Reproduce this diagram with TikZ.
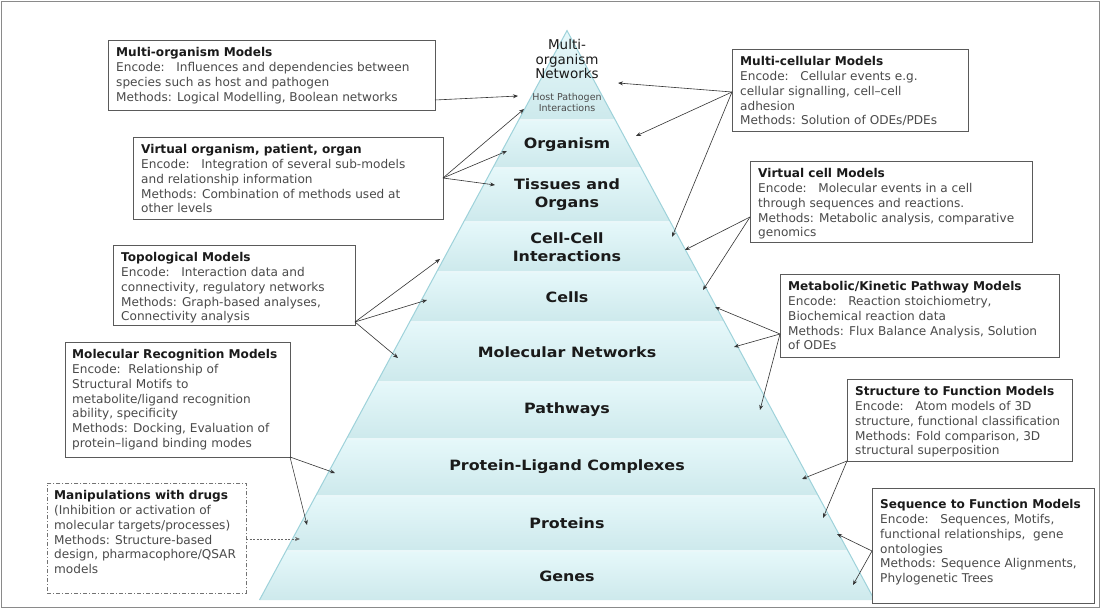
\documentclass[tikz,border=0pt]{standalone}
\usepackage{fontspec}
\setmainfont{DejaVu Sans}
\newfontfamily\lblfont[FakeStretch=1.12]{DejaVu Sans}
\usetikzlibrary{arrows.meta}
\definecolor{edgec}{HTML}{9ED2DA}
\definecolor{ltop}{HTML}{E6F8FA}
\definecolor{lbot}{HTML}{CDE9EC}
\definecolor{sepc}{HTML}{EAF7F9}
\definecolor{bodyc}{HTML}{4A4A4A}
\definecolor{titlec}{HTML}{1A1A1A}
\definecolor{boxc}{HTML}{5A5A5A}
\definecolor{arrc}{HTML}{333333}
\definecolor{framec}{HTML}{8A8A8A}
\newcommand{\pyrlayer}[2]{%
  \pgfmathsetmacro{\hA}{0.54*(#1-30.6)}%
  \pgfmathsetmacro{\hB}{0.54*(#2-30.6)}%
  \shade[top color=ltop, bottom color=lbot] (567-\hA,#1) -- (567+\hA,#1) -- (567+\hB,#2) -- (567-\hB,#2) -- cycle;
}
\tikzset{
  box/.style={draw=boxc, line width=0.8pt, fill=white, inner sep=0pt, anchor=north west},
  dbox/.style={box, draw=black!55, dash pattern=on 4pt off 2pt on 1pt off 2pt},
  txt/.style={anchor=north west, inner sep=0pt, align=left, text=bodyc, font=\fontsize{12.1}{14.75}\selectfont},
  lbl/.style={font=\lblfont\bfseries\fontsize{14.2}{18}\selectfont, align=center, text=titlec, inner sep=0pt},
  arr/.style={-{Stealth[length=5pt,width=4pt]}, line width=0.6pt, draw=arrc},
  darr/.style={arr, draw=black!60, dashed, dash pattern=on 2pt off 1.5pt}
}
\newcommand{\ttl}[1]{\textbf{\color{titlec}#1}}
\begin{document}
\begin{tikzpicture}[x=1pt,y=-1pt]
\useasboundingbox (0,0) rectangle (1101,609);
\fill[white] (0,0) rectangle (1101,609);
\draw[framec, line width=0.8pt] (1.5,1.5) rectangle (1099.5,607.5);
% pyramid layers
\pyrlayer{30.6}{120}
\pyrlayer{120}{168}
\pyrlayer{168}{222}
\pyrlayer{222}{272}
\pyrlayer{272}{322}
\pyrlayer{322}{382}
\pyrlayer{382}{439}
\pyrlayer{439}{496}
\pyrlayer{496}{551}
\pyrlayer{551}{600}
\foreach \yy in {120,168,222,272,322,382,439,496,551}{
  \pgfmathsetmacro{\hh}{0.54*(\yy-30.6)}
  \draw[sepc, line width=1.3pt] (567-\hh,\yy) -- (567+\hh,\yy);
}
\draw[edgec, line width=1pt] (259.5,600) -- (567,30.6) -- (874.5,600);
% layer labels
\node[align=center, inner sep=0pt, text=titlec, font=\fontsize{13.5}{14.5}\selectfont] (lMulti) at (567,59) {Multi-\\organism\\Networks};
\node[align=center, inner sep=0pt, text=bodyc, font=\fontsize{9.5}{11.6}\selectfont] (lHost) at (567,102.5) {Host Pathogen\\Interactions};
\node[lbl] (lOrg) at (567,145) {Organism};
\node[lbl] (lTis) at (567,195) {Tissues and\\Organs};
\node[lbl] (lCC) at (567,247) {Cell-Cell\\Interactions};
\node[lbl] (lCells) at (567,297) {Cells};
\node[lbl] (lMol) at (567,352) {Molecular Networks};
\node[lbl] (lPath) at (567,410) {Pathways};
\node[lbl] (lPLC) at (567,467) {Protein-Ligand Complexes};
\node[lbl] (lProt) at (567,523) {Proteins};
\node[lbl] (lGenes) at (567,576) {Genes};
% boxes
\node[box, minimum width=327, minimum height=70] (bA) at (108,40) {};
\node[txt] (tA) at ([xshift=8pt,yshift=-7.5pt]bA.north west) {\ttl{Multi-organism Models}\\Encode:\ \ \ Influences and dependencies between\\species such as host and pathogen\\Methods: Logical Modelling, Boolean networks};
\node[box, minimum width=310, minimum height=82] (bB) at (133,137) {};
\node[txt] (tB) at ([xshift=8pt,yshift=-7.5pt]bB.north west) {\ttl{Virtual organism, patient, organ}\\Encode:\ \ \ Integration of several sub-models\\and relationship information\\Methods: Combination of methods used at\\other levels};
\node[box, minimum width=242, minimum height=80] (bC) at (113,245) {};
\node[txt] (tC) at ([xshift=8pt,yshift=-7.5pt]bC.north west) {\ttl{Topological Models}\\Encode:\ \ \ Interaction data and\\connectivity, regulatory networks\\Methods: Graph-based analyses,\\Connectivity analysis};
\node[box, minimum width=225, minimum height=115] (bD) at (65,342) {};
\node[txt] (tD) at ([xshift=7pt,yshift=-7.5pt]bD.north west) {\ttl{Molecular Recognition Models}\\Encode:\ \ Relationship of\\Structural Motifs to\\metabolite/ligand recognition\\ability, specificity\\Methods: Docking, Evaluation of\\protein–ligand binding modes};
\node[dbox, minimum width=199, minimum height=110] (bE) at (47,483) {};
\node[txt] (tE) at ([xshift=7pt,yshift=-7.5pt]bE.north west) {\ttl{Manipulations with drugs}\\(Inhibition or activation of\\molecular targets/processes)\\Methods: Structure-based\\design, pharmacophore/QSAR\\models};
\node[box, minimum width=236, minimum height=82] (bF) at (732,49) {};
\node[txt] (tF) at ([xshift=8pt,yshift=-7.5pt]bF.north west) {\ttl{Multi-cellular Models}\\Encode:\ \ \ Cellular events e.g.\\cellular signalling, cell–cell\\adhesion\\Methods: Solution of ODEs/PDEs};
\node[box, minimum width=282, minimum height=81] (bG) at (750,161) {};
\node[txt] (tG) at ([xshift=8pt,yshift=-7.5pt]bG.north west) {\ttl{Virtual cell Models}\\Encode:\ \ \ Molecular events in a cell\\through sequences and reactions.\\Methods: Metabolic analysis, comparative\\genomics};
\node[box, minimum width=279, minimum height=83] (bH) at (780,274) {};
\node[txt] (tH) at ([xshift=8pt,yshift=-7.5pt]bH.north west) {\ttl{Metabolic/Kinetic Pathway Models}\\Encode:\ \ \ Reaction stoichiometry,\\Biochemical reaction data\\Methods: Flux Balance Analysis, Solution\\of ODEs};
\node[box, minimum width=225, minimum height=82] (bI) at (847,379) {};
\node[txt] (tI) at ([xshift=8pt,yshift=-7.5pt]bI.north west) {\ttl{Structure to Function Models}\\Encode:\ \ \ Atom models of 3D\\structure, functional classification\\Methods: Fold comparison, 3D\\structural superposition};
\node[box, minimum width=222, minimum height=115] (bJ) at (872,488) {};
\node[txt] (tJ) at ([xshift=8pt,yshift=-11.5pt]bJ.north west) {\ttl{Sequence to Function Models}\\Encode:\ \ \ Sequences, Motifs,\\functional relationships,\ \ gene\\ontologies\\Methods: Sequence Alignments,\\Phylogenetic Trees};
% connector start points
\coordinate (sA) at (435,100);
\coordinate (sB) at (443,178);
\coordinate (sC) at (355,322);
\coordinate (sD) at (290,457);
\coordinate (sE) at (246,539);
\coordinate (sF) at (732,92);
\coordinate (sG) at (750,217);
\coordinate (sH) at (780,334);
\coordinate (sI) at (847,461);
\coordinate (sJ) at (872,551);
% targets
\coordinate (eA) at (518,96);
\coordinate (eB1) at (524,109);
\coordinate (eB2) at (507,151);
\coordinate (eB3) at (495,185);
\coordinate (eC1) at (440,259);
\coordinate (eC2) at (427,300);
\coordinate (eC3) at (398,358);
\coordinate (eD1) at (335,473);
\coordinate (eD2) at (307,525);
\coordinate (eE) at (300,539);
\coordinate (eF1) at (618,83);
\coordinate (eF2) at (636,136);
\coordinate (eF3) at (672,237);
\coordinate (eG1) at (685,250);
\coordinate (eG2) at (703,290);
\coordinate (eH1) at (715,307);
\coordinate (eH2) at (734,347);
\coordinate (eH3) at (760,410);
\coordinate (eI1) at (802,479);
\coordinate (eI2) at (823,518);
\coordinate (eJ1) at (837,534);
\coordinate (eJ2) at (853,585);
% connectors
\draw[arr] (sA) -- (eA);
\draw[arr] (sB) -- (eB1);
\draw[arr] (sB) -- (eB2);
\draw[arr] (sB) -- (eB3);
\draw[arr] (sC) -- (eC1);
\draw[arr] (sC) -- (eC2);
\draw[arr] (sC) -- (eC3);
\draw[arr] (sD) -- (eD1);
\draw[arr] (sD) -- (eD2);
\draw[darr] (sE) -- (eE);
\draw[arr] (sF) -- (eF1);
\draw[arr] (sF) -- (eF2);
\draw[arr] (sF) -- (eF3);
\draw[arr] (sG) -- (eG1);
\draw[arr] (sG) -- (eG2);
\draw[arr] (sH) -- (eH1);
\draw[arr] (sH) -- (eH2);
\draw[arr] (sH) -- (eH3);
\draw[arr] (sI) -- (eI1);
\draw[arr] (sI) -- (eI2);
\draw[arr] (sJ) -- (eJ1);
\draw[arr] (sJ) -- (eJ2);
\end{tikzpicture}
\end{document}
